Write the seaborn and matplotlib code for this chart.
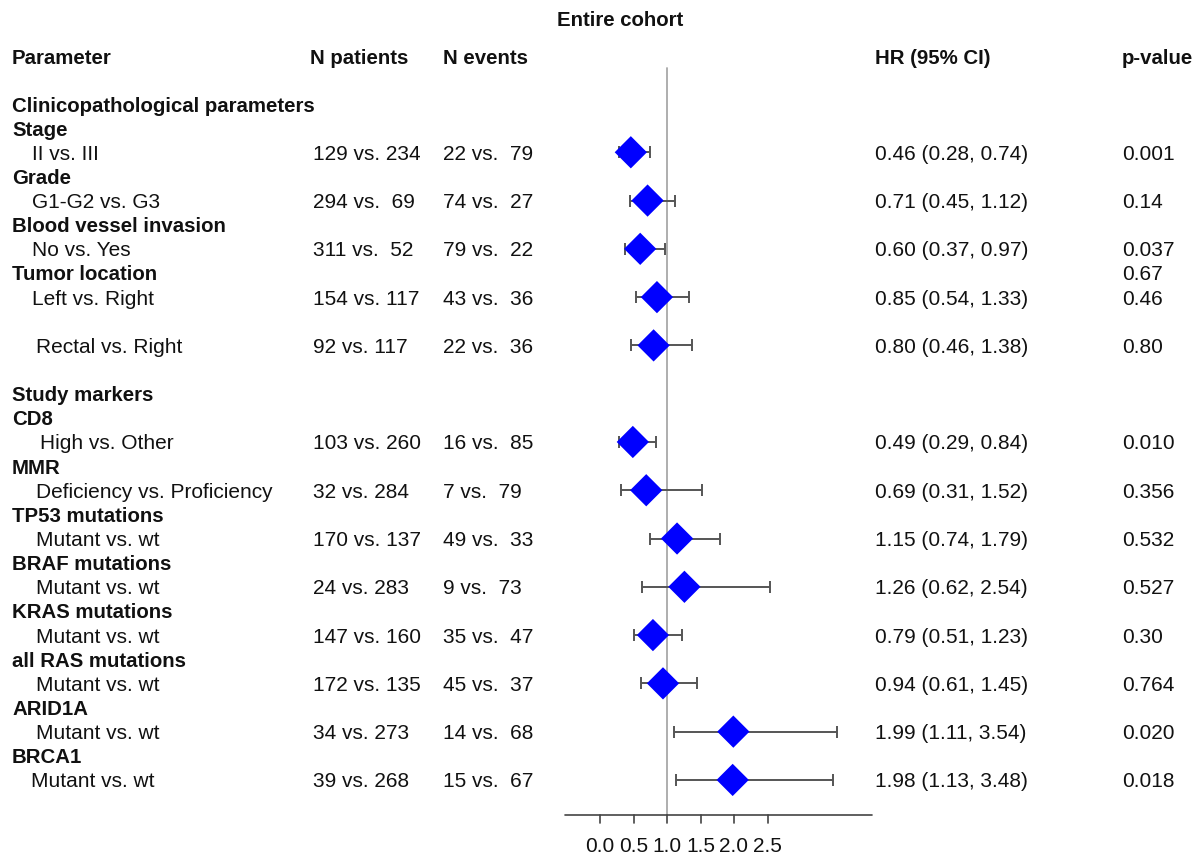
import numpy as np
import pandas as pd
import matplotlib
matplotlib.use("Agg")
import matplotlib.pyplot as plt
import matplotlib.transforms as mtransforms
import seaborn as sns

# ---------------- data ----------------
title = "Entire cohort"
headers = ["Parameter", "N patients", "N events", "HR (95% CI)", "p-value"]

row_labels = ["Clinicopathological parameters", "Stage", "II vs. III", "Grade",
              "G1-G2 vs. G3", "Blood vessel invasion", "No vs. Yes", "Tumor location",
              "Left vs. Right", "", "Rectal vs. Right", "", "Study markers", "CD8",
              "High vs. Other", "MMR", "Deficiency vs. Proficiency", "TP53 mutations",
              "Mutant vs. wt", "BRAF mutations", "Mutant vs. wt", "KRAS mutations",
              "Mutant vs. wt", "all RAS mutations", "Mutant vs. wt", "ARID1A",
              "Mutant vs. wt", "BRCA1", "Mutant vs. wt"]
heading_rows = [0, 1, 3, 5, 7, 12, 13, 15, 17, 19, 21, 23, 25, 27]

comp_rows = [2, 4, 6, 8, 10, 14, 16, 18, 20, 22, 24, 26, 28]
n_pat_a = [129, 294, 311, 154, 92, 103, 32, 170, 24, 147, 172, 34, 39]
n_pat_b = [234, 69, 52, 117, 117, 260, 284, 137, 283, 160, 135, 273, 268]
n_evt_a = [22, 74, 79, 43, 22, 16, 7, 49, 9, 35, 45, 14, 15]
n_evt_b = [79, 27, 22, 36, 36, 85, 79, 33, 73, 47, 37, 68, 67]
hr = [0.46, 0.71, 0.60, 0.85, 0.80, 0.49, 0.69, 1.15, 1.26, 0.79, 0.94, 1.99, 1.98]
ci_lo = [0.28, 0.45, 0.37, 0.54, 0.46, 0.29, 0.31, 0.74, 0.62, 0.51, 0.61, 1.11, 1.13]
ci_hi = [0.74, 1.12, 0.97, 1.33, 1.38, 0.84, 1.52, 1.79, 2.54, 1.23, 1.45, 3.54, 3.48]

p_rows = [2, 4, 6, 7, 8, 10, 14, 16, 18, 20, 22, 24, 26, 28]
p_vals = ["0.001", "0.14", "0.037", "0.67", "0.46", "0.80", "0.010", "0.356",
          "0.532", "0.527", "0.30", "0.764", "0.020", "0.018"]

x_ticks = [0.0, 0.5, 1.0, 1.5, 2.0, 2.5]

# ---------------- layout ----------------
W, H = 1197, 857
PX0 = 600.0      # pixel x of HR = 0
PXU = 67.0       # pixels per HR unit
PY0 = 104.0      # pixel y of row 0
PYU = 24.14      # pixels per row

def row_of(py):
    return (py - PY0) / PYU

sns.set_theme(style="white")
plt.rcParams['font.family'] = ['Liberation Sans', 'DejaVu Sans']

fig = plt.figure(figsize=(W / 100, H / 100), dpi=100)
ax = fig.add_axes([0, 0, 1, 1])
ax.set_xlim(-PX0 / PXU, (W - PX0) / PXU)
ax.set_ylim(row_of(H), row_of(0))
ax.axis("off")

tr = mtransforms.blended_transform_factory(ax.transAxes, ax.transData)
FS = 15
FSB = 14.7
txt_col = "#111111"
VA = "center_baseline"

# title & headers
ax.text(620 / W, row_of(18), title, transform=tr, ha="center", va=VA,
        fontsize=FSB, fontweight="bold", color=txt_col)
header_x = [12, 310, 443, 875, 1122]
for hx, h in zip(header_x, headers):
    ax.text(hx / W, row_of(57), h, transform=tr, ha="left", va=VA,
            fontsize=FSB, fontweight="bold", color=txt_col)

# row labels
indent = {2: 32, 4: 32, 6: 32, 8: 32, 10: 36, 14: 40, 16: 36, 18: 36,
          20: 36, 22: 36, 24: 36, 26: 36, 28: 31}
for i, lab in enumerate(row_labels):
    if not lab:
        continue
    if i in heading_rows:
        ax.text(12 / W, i, lab, transform=tr, ha="left", va=VA,
                fontsize=FSB, fontweight="bold", color=txt_col)
    else:
        ax.text(indent.get(i, 32) / W, i, lab, transform=tr, ha="left",
                va=VA, fontsize=FS, color=txt_col)

# numeric columns
for k, r in enumerate(comp_rows):
    ax.text(313 / W, r, f"{n_pat_a[k]} vs. {n_pat_b[k]:>3}", transform=tr,
            ha="left", va=VA, fontsize=FS, color=txt_col)
    ax.text(443 / W, r, f"{n_evt_a[k]} vs. {n_evt_b[k]:>3}", transform=tr,
            ha="left", va=VA, fontsize=FS, color=txt_col)
    ax.text(875 / W, r, f"{hr[k]:.2f} ({ci_lo[k]:.2f}, {ci_hi[k]:.2f})",
            transform=tr, ha="left", va=VA, fontsize=FS, color=txt_col)
for r, p in zip(p_rows, p_vals):
    ax.text(1122 / W, r, p, transform=tr, ha="left", va=VA,
            fontsize=FS, color=txt_col)

# reference line at HR = 1
axis_row = row_of(815)
ax.plot([1.0, 1.0], [row_of(68), axis_row], color="#a8a8a8", lw=1.3, zorder=1)

# confidence intervals
df = pd.DataFrame({"row": comp_rows, "hr": hr, "lo": ci_lo, "hi": ci_hi})
ax.errorbar(df["hr"], df["row"],
            xerr=[df["hr"] - df["lo"], df["hi"] - df["hr"]],
            fmt="none", ecolor="#555555", elinewidth=1.4, capsize=4.5,
            capthick=1.4, zorder=2)

# diamonds
sns.scatterplot(data=df, x="hr", y="row", marker="D", s=270, color="#0000ff",
                edgecolor="none", linewidth=0, ax=ax, zorder=3, legend=False)

# x axis
ax.plot([(565 - PX0) / PXU, (872 - PX0) / PXU], [axis_row, axis_row],
        color="#444444", lw=1.2, zorder=1)
tick_len = 8 / PYU
for t in x_ticks:
    ax.plot([t, t], [axis_row, axis_row + tick_len], color="#444444", lw=1.2)
    ax.text(t, row_of(844), f"{t:.1f}", ha="center", va=VA,
            fontsize=FS, color=txt_col)

ax.set_xlim(-PX0 / PXU, (W - PX0) / PXU)
ax.set_ylim(row_of(H), row_of(0))

fig.savefig("out.png", dpi=100, facecolor="white")
